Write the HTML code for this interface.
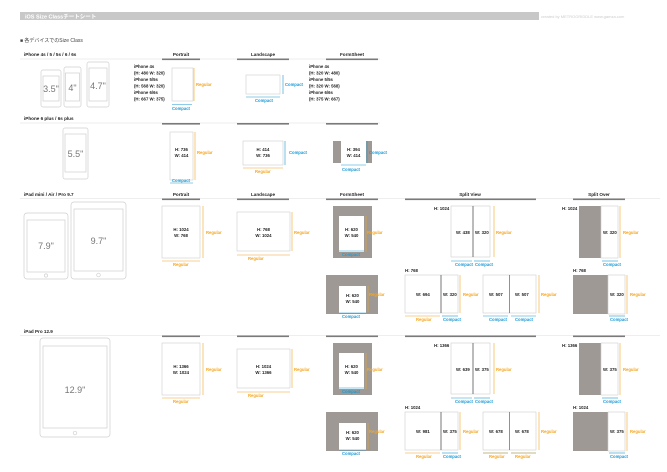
<!DOCTYPE html>
<html><head><meta charset="utf-8"><style>
html,body{margin:0;padding:0;background:#fff;}
svg{display:block;font-family:"Liberation Sans","Noto Sans CJK JP",sans-serif;}
.t{font-size:4.3px;font-weight:bold;fill:#222;}
.h{font-size:4.6px;font-weight:bold;fill:#222;}
.o{font-size:4.2px;font-weight:bold;fill:#f5a623;}
.b{font-size:4.2px;font-weight:bold;fill:#1a9ad6;}
.bx{fill:#fff;stroke:#cfcfcf;stroke-width:0.6;}
.g{fill:#9e9995;}
.ol{stroke:#f5a623;stroke-width:0.6;}
.bl{stroke:#1a9ad6;stroke-width:0.6;}
.bar{fill:#7a7a7a;}
.ln{stroke:#ddd;stroke-width:0.6;}
.dev{fill:#fff;stroke:#cfcfcf;stroke-width:0.7;}
.sz{font-size:9px;fill:#777;}
</style></head><body>
<svg width="667" height="472" viewBox="0 0 667 472" xmlns="http://www.w3.org/2000/svg">
<rect x="20" y="12" width="519" height="8" fill="#c8c8c8"/>
<text x="25" y="18.5" font-size="5.5" font-weight="bold" fill="#fff">iOS Size Classチートシート</text>
<text x="541" y="18" font-size="4" fill="#ccc">created by METROGRIDDLE www.gamza.com</text>
<text x="20" y="42" font-size="5" fill="#444">■ 各デバイスでのSize Class</text>

<!-- Section 1 -->
<text x="24" y="56" class="h">iPhone 4s / 5 / 5s / 6 / 6s</text>
<line x1="20" y1="59" x2="380" y2="59" class="ln"/>
<text x="181" y="56" class="h" text-anchor="middle">Portrait</text>
<text x="263" y="56" class="h" text-anchor="middle">Landscape</text>
<text x="352" y="56" class="h" text-anchor="middle">FormSheet</text>
<rect x="162" y="58.5" width="38" height="1.6" class="bar"/>
<rect x="237" y="58.5" width="52" height="1.6" class="bar"/>
<rect x="326" y="58.5" width="52" height="1.6" class="bar"/>
<rect x="41" y="70" width="20" height="37" rx="2" class="dev"/><rect x="43" y="76" width="16" height="25" class="dev"/>
<text x="51" y="92" class="sz" text-anchor="middle">3.5"</text>
<rect x="64" y="67" width="17" height="40" rx="2" class="dev"/><rect x="65.5" y="73" width="14" height="28" class="dev"/>
<text x="72.5" y="91" class="sz" text-anchor="middle">4"</text>
<rect x="87" y="62" width="22" height="45" rx="2" class="dev"/><rect x="89" y="68" width="18" height="33" class="dev"/>
<text x="98" y="89" class="sz" text-anchor="middle">4.7"</text>
<text class="t"><tspan x="134" y="68">iPhone 4s</tspan><tspan x="134" y="74.5">(H: 480  W: 320)</tspan><tspan x="134" y="81">iPhone 5/5s</tspan><tspan x="134" y="87.5">(H: 568  W: 320)</tspan><tspan x="134" y="94">iPhone 6/6s</tspan><tspan x="134" y="100.5">(H: 667  W: 375)</tspan></text>
<rect x="172" y="68" width="21" height="33" class="bx"/>
<line x1="194" y1="68" x2="194" y2="101" class="ol"/><text x="196" y="86" class="o">Regular</text>
<line x1="172" y1="104.5" x2="192" y2="104.5" class="bl"/><text x="172" y="110" class="b">Compact</text>
<rect x="246" y="75" width="34" height="19" class="bx"/>
<line x1="283" y1="75" x2="283" y2="94" class="bl"/><text x="285" y="86" class="b">Compact</text>
<line x1="246" y1="97" x2="280" y2="97" class="bl"/><text x="255" y="102" class="b">Compact</text>
<text class="t"><tspan x="309" y="68">iPhone 4s</tspan><tspan x="309" y="74.5">(H: 320  W: 480)</tspan><tspan x="309" y="81">iPhone 5/5s</tspan><tspan x="309" y="87.5">(H: 320  W: 568)</tspan><tspan x="309" y="94">iPhone 6/6s</tspan><tspan x="309" y="100.5">(H: 375  W: 667)</tspan></text>

<!-- Section 2 -->
<text x="24" y="120" class="h">iPhone 6 plus / 6s plus</text>
<line x1="20" y1="123" x2="380" y2="123" class="ln"/>
<rect x="162" y="123" width="38" height="1.6" class="bar"/>
<rect x="237" y="123" width="52" height="1.6" class="bar"/>
<rect x="326" y="123" width="52" height="1.6" class="bar"/>
<rect x="63" y="128" width="25" height="51" rx="2" class="dev"/><rect x="65" y="134" width="21" height="38" class="dev"/>
<text x="75.5" y="157" class="sz" text-anchor="middle">5.5"</text>
<rect x="170" y="132" width="23" height="48" class="bx"/>
<text x="181.5" y="151" class="t" text-anchor="middle">H: 736</text><text x="181.5" y="157" class="t" text-anchor="middle">W: 414</text>
<line x1="195" y1="132" x2="195" y2="180" class="ol"/><text x="197" y="154" class="o">Regular</text>
<line x1="170" y1="176" x2="193" y2="176" class="bl" transform="translate(0,7)"/><text x="172" y="182" class="b">Compact</text>
<rect x="243" y="141" width="40" height="24" class="bx"/>
<text x="263" y="151" class="t" text-anchor="middle">H: 414</text><text x="263" y="157" class="t" text-anchor="middle">W: 736</text>
<line x1="285" y1="141" x2="285" y2="165" class="bl"/><text x="289" y="154" class="b">Compact</text>
<line x1="243" y1="168" x2="283" y2="168" class="ol"/><text x="255" y="173" class="o">Regular</text>
<rect x="333" y="141" width="39" height="22" class="g"/><rect x="341" y="141" width="25" height="22" fill="#fff"/>
<text x="353.5" y="151" class="t" text-anchor="middle">H: 394</text><text x="353.5" y="157" class="t" text-anchor="middle">W: 414</text>
<line x1="367" y1="141" x2="367" y2="163" class="bl"/><text x="369" y="154" class="b">Compact</text>
<line x1="341" y1="165" x2="366" y2="165" class="bl"/><text x="342" y="171" class="b">Compact</text>

<!-- Section 3 -->
<text x="24" y="196" class="h">iPad mini / Air / Pro 9.7</text>
<line x1="20" y1="198.5" x2="660" y2="198.5" class="ln"/>
<g id="hdr">
<text x="181" y="196" class="h" text-anchor="middle">Portrait</text>
<text x="263" y="196" class="h" text-anchor="middle">Landscape</text>
<text x="352" y="196" class="h" text-anchor="middle">FormSheet</text>
<text x="470" y="196" class="h" text-anchor="middle">Split View</text>
<text x="599" y="196" class="h" text-anchor="middle">Split Over</text>
</g>
<rect x="162" y="198.5" width="38" height="1.6" class="bar"/>
<rect x="237" y="198.5" width="52" height="1.6" class="bar"/>
<rect x="326" y="198.5" width="52" height="1.6" class="bar"/>
<rect x="405" y="198.5" width="131" height="1.6" class="bar"/>
<rect x="573" y="198.5" width="52" height="1.6" class="bar"/>
<rect x="24" y="213" width="44" height="66" rx="3" class="dev"/><rect x="27" y="220" width="38" height="52" class="dev"/><circle cx="46" cy="275.5" r="1.6" class="dev"/>
<text x="46" y="249" class="sz" text-anchor="middle">7.9"</text>
<rect x="71" y="202" width="55" height="77" rx="3" class="dev"/><rect x="74" y="209" width="49" height="62" class="dev"/><circle cx="98.5" cy="275" r="1.8" class="dev"/>
<text x="98.5" y="244" class="sz" text-anchor="middle">9.7"</text>

<g id="s3">
<rect x="162" y="206" width="38" height="52" class="bx"/>
<line x1="203" y1="206" x2="203" y2="258" class="ol"/><text x="206" y="234" class="o">Regular</text>
<line x1="162" y1="261" x2="200" y2="261" class="ol"/><text x="173" y="266" class="o">Regular</text>
<rect x="237" y="212" width="53" height="39" class="bx"/>
<line x1="292" y1="212" x2="292" y2="251" class="ol"/><text x="294" y="234" class="o">Regular</text>
<line x1="237" y1="255" x2="290" y2="255" class="ol"/><text x="248" y="260" class="o">Regular</text>
<rect x="333" y="206" width="39" height="52" class="g"/><rect x="339" y="216" width="25" height="36" fill="#fff"/>
<text x="351.5" y="231" class="t" text-anchor="middle">H: 620</text><text x="351.5" y="237" class="t" text-anchor="middle">W: 540</text>
<line x1="366" y1="216" x2="366" y2="252" class="ol"/><text x="367" y="234" class="o">Regular</text>
<line x1="339" y1="251" x2="364" y2="251" class="bl"/><text x="342" y="256" class="b">Compact</text>
<rect x="326" y="275" width="52" height="39" class="g"/><rect x="339" y="286" width="27" height="27" fill="#fff"/>
<text x="352.5" y="297" class="t" text-anchor="middle">H: 620</text><text x="352.5" y="303" class="t" text-anchor="middle">W: 540</text>
<line x1="368" y1="286" x2="368" y2="312" class="ol"/><text x="369" y="296" class="o">Regular</text>
<line x1="339" y1="313" x2="366" y2="313" class="bl"/><text x="342" y="318" class="b">Compact</text>
<rect x="451" y="206" width="39" height="51" class="bx"/><line x1="473" y1="206" x2="473" y2="257" stroke="#555" stroke-width="0.8"/>
<line x1="494" y1="206" x2="494" y2="257" class="ol"/><text x="496" y="234" class="o">Regular</text>
<line x1="451" y1="261" x2="472" y2="261" class="bl"/><line x1="474" y1="261" x2="490" y2="261" class="bl"/>
<text x="455" y="266" class="b">Compact</text><text x="475" y="266" class="b">Compact</text>
<rect x="579" y="206" width="22" height="52" class="g"/><rect x="601" y="206" width="17" height="52" class="bx"/>
<line x1="620" y1="206" x2="620" y2="258" class="ol"/><text x="623" y="234" class="o">Regular</text>
<line x1="602" y1="261" x2="618" y2="261" class="bl"/><text x="603" y="266" class="b">Compact</text>
<rect x="405" y="275" width="53" height="38" class="bx"/><line x1="441" y1="275" x2="441" y2="313" stroke="#555" stroke-width="0.8"/>
<line x1="460" y1="275" x2="460" y2="313" class="ol"/><text x="463" y="296" class="o">Regular</text>
<line x1="405" y1="316" x2="440" y2="316" class="ol"/><line x1="442" y1="316" x2="458" y2="316" class="bl"/>
<text x="416" y="321" class="o">Regular</text><text x="443" y="321" class="b">Compact</text>
<rect x="483" y="275" width="53" height="38" class="bx"/><line x1="509.5" y1="275" x2="509.5" y2="313" stroke="#777" stroke-width="0.8"/>
<line x1="539" y1="275" x2="539" y2="313" class="ol"/><text x="541" y="296" class="o">Regular</text>
<line x1="483" y1="316" x2="508" y2="316" class="bl"/><line x1="511" y1="316" x2="536" y2="316" class="bl"/>
<rect x="573" y="275" width="35" height="39" class="g"/><rect x="608" y="275" width="17" height="39" class="bx"/>
<line x1="627" y1="275" x2="627" y2="314" class="ol"/><text x="630" y="296" class="o">Regular</text>
<line x1="609" y1="316" x2="625" y2="316" class="bl"/><text x="610" y="321" class="b">Compact</text>
</g>
<text x="181" y="231" class="t" text-anchor="middle">H: 1024</text><text x="181" y="237" class="t" text-anchor="middle">W: 768</text>
<text x="263.5" y="231" class="t" text-anchor="middle">H: 768</text><text x="263.5" y="237" class="t" text-anchor="middle">W: 1024</text>
<text x="434" y="210" class="t">H: 1024</text>
<text x="456" y="234" class="t">W: 438</text><text x="475" y="234" class="t">W: 320</text>
<text x="562" y="210" class="t">H: 1024</text><text x="603" y="234" class="t">W: 320</text>
<text x="405" y="272" class="t">H: 768</text>
<text x="416" y="296" class="t">W: 694</text><text x="443" y="296" class="t">W: 320</text>
<text x="489" y="296" class="t">W: 507</text><text x="515" y="296" class="t">W: 507</text>
<text x="489" y="321" class="b">Compact</text><text x="515" y="321" class="b">Compact</text>
<text x="573" y="272" class="t">H: 768</text><text x="610" y="296" class="t">W: 320</text>

<!-- Section 4 -->
<text x="24" y="333" class="h">iPad Pro 12.9</text>
<line x1="20" y1="335.5" x2="660" y2="335.5" class="ln"/>
<rect x="162" y="335.5" width="38" height="1.6" class="bar"/>
<rect x="237" y="335.5" width="52" height="1.6" class="bar"/>
<rect x="326" y="335.5" width="52" height="1.6" class="bar"/>
<rect x="405" y="335.5" width="131" height="1.6" class="bar"/>
<rect x="573" y="335.5" width="52" height="1.6" class="bar"/>
<rect x="40" y="338" width="70" height="99" rx="3" class="dev"/><rect x="43" y="346" width="64" height="82" class="dev"/><circle cx="75" cy="433" r="1.8" class="dev"/>
<text x="75" y="393" class="sz" text-anchor="middle">12.9"</text>
<use href="#s3" transform="translate(0,137)"/>
<text x="181" y="368" class="t" text-anchor="middle">H: 1366</text><text x="181" y="374" class="t" text-anchor="middle">W: 1024</text>
<text x="263.5" y="368" class="t" text-anchor="middle">H: 1024</text><text x="263.5" y="374" class="t" text-anchor="middle">W: 1366</text>
<text x="434" y="347" class="t">H: 1366</text>
<text x="456" y="371" class="t">W: 639</text><text x="475" y="371" class="t">W: 375</text>
<text x="562" y="347" class="t">H: 1366</text><text x="603" y="371" class="t">W: 375</text>
<text x="405" y="409" class="t">H: 1024</text>
<text x="416" y="433" class="t">W: 981</text><text x="443" y="433" class="t">W: 375</text>
<text x="489" y="433" class="t">W: 678</text><text x="515" y="433" class="t">W: 678</text>
<text x="489" y="458" class="o">Regular</text><text x="515" y="458" class="o">Regular</text>
<text x="573" y="409" class="t">H: 1024</text><text x="610" y="433" class="t">W: 375</text>
<line x1="483" y1="453" x2="508" y2="453" class="ol"/><line x1="511" y1="453" x2="536" y2="453" class="ol"/>
</svg>
</body></html>
